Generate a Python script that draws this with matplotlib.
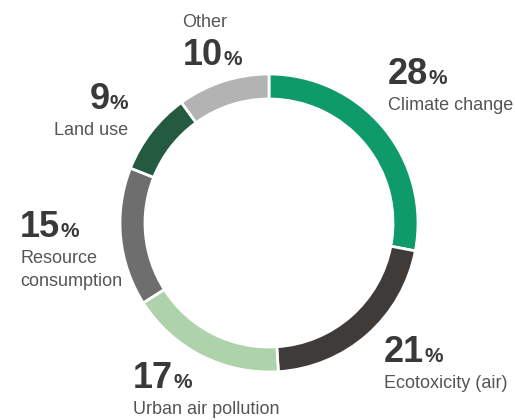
import matplotlib
matplotlib.use("Agg")
import matplotlib.pyplot as plt
from matplotlib import font_manager

categories = ["Climate change", "Ecotoxicity (air)", "Urban air pollution",
              "Resource consumption", "Land use", "Other"]
shares = [28, 21, 17, 15, 9, 10]
colors = ["#0f9a69", "#3e3b39", "#aed3ab", "#6e6e6e", "#235a40", "#b3b3b3"]

# label placement: (x, y of number baseline, label text lines, alignment)
label_specs = [
    (388, 84, ["Climate change"], "left"),
    (384, 362, ["Ecotoxicity (air)"], "left"),
    (133, 388, ["Urban air pollution"], "left"),
    (20, 237, ["Resource", "consumption"], "left"),
    (128, 109, ["Land use"], "right"),
    (183, 65, ["Other"], "top"),
]

W, H = 515, 420
fig = plt.figure(figsize=(W / 100, H / 100), dpi=100)
ax = fig.add_axes([0, 0, 1, 1])

cx, cy, r_out = 269, 223, 149
ring = 25

wedges, _ = ax.pie(shares, colors=colors, startangle=90, counterclock=False,
                   center=(cx, cy), radius=r_out, frame=True,
                   wedgeprops=dict(width=ring, edgecolor="white", linewidth=2))
# pie draws in y-up space; with the inverted y axis mirror angles back
for w in wedges:
    t1, t2 = w.theta1, w.theta2
    w.set_theta1(-t2)
    w.set_theta2(-t1)
ax.set_xlim(0, W)
ax.set_ylim(H, 0)
ax.set_aspect("equal")
ax.axis("off")

num_color = "#3a3838"
lab_color = "#555555"
names = {f.name for f in font_manager.fontManager.ttflist}
num_font = "Liberation Sans Narrow" if "Liberation Sans Narrow" in names else "Liberation Sans"
font = "Liberation Sans"

fig.canvas.draw()
renderer = fig.canvas.get_renderer()

for (x, y, lines, ha), v in zip(label_specs, shares):
    num = ax.text(0, y, f"{v}", fontsize=26, fontweight="bold", color=num_color,
                  family=num_font, ha="left", va="baseline")
    pct = ax.text(0, y, "%", fontsize=15, fontweight="bold", color=num_color,
                  family=num_font, ha="left", va="baseline")
    wn = num.get_window_extent(renderer).width
    wp = pct.get_window_extent(renderer).width
    gap = 0
    total = wn + gap + wp
    x0 = x - total if ha == "right" else x
    num.set_x(x0)
    pct.set_x(x0 + wn + gap)
    if ha == "top":
        # category name sits above its number
        for i, line in enumerate(lines):
            ax.text(x - 1, y - 38 + i * 23, line, fontsize=13, color=lab_color,
                    family=font, ha="left", va="baseline")
    else:
        for i, line in enumerate(lines):
            ax.text(x, y + 26 + i * 23, line, fontsize=13, color=lab_color,
                    family=font, ha=ha, va="baseline")

fig.savefig("out.png", dpi=100)
